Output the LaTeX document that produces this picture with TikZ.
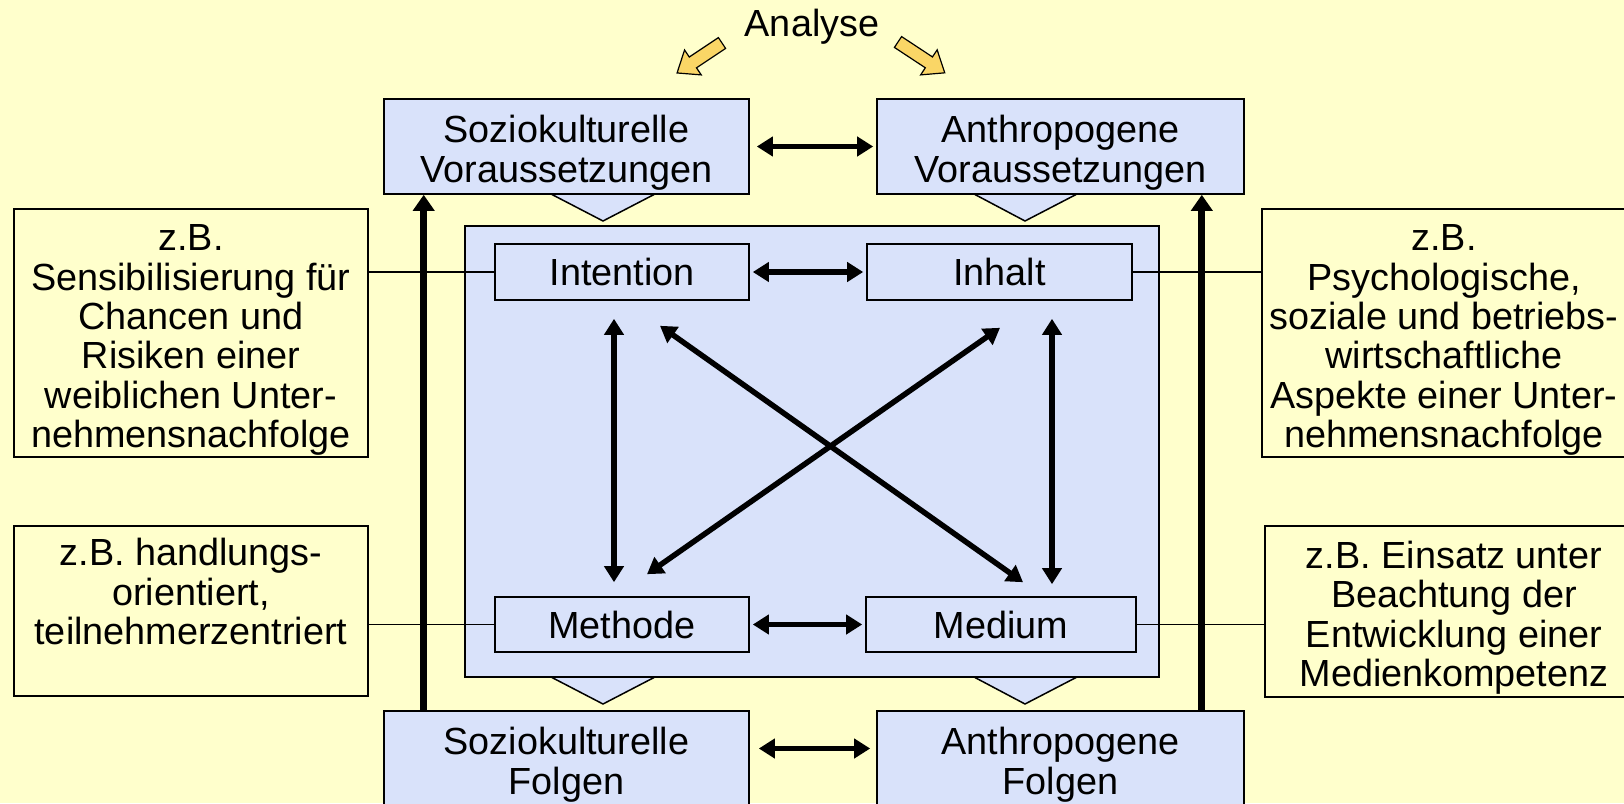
\documentclass[tikz,border=0pt]{standalone}
\usepackage{fontspec}
\setmainfont{Liberation Sans}
\usetikzlibrary{arrows.meta, calc}
\definecolor{bgyellow}{RGB}{255,255,204}
\definecolor{boxblue}{RGB}{217,226,250}
\definecolor{hintyellow}{RGB}{250,214,102}
\newcommand{\lift}{\rule{0pt}{40pt}}

\begin{document}
\begin{tikzpicture}[x=1pt, y=-1pt]

\tikzset{box/.style = {shape=rectangle, draw, fill=boxblue, line width=1.6pt, align=center, inner sep=2pt}}
\tikzset{note/.style = {shape=rectangle, draw, fill=bgyellow, line width=1.6pt, align=center, inner sep=2pt}}
\tikzset{edge/.style = {<->, >={Triangle[length=16pt,width=19pt]}, line width=5.5pt}}
\tikzset{bigedge/.style = {-{Triangle[length=16pt,width=21pt]}, line width=7pt}}
\tikzset{link/.style = {line width=1.6pt}}
\tikzset{hint/.style = {fill=hintyellow, draw, line width=1.2pt}}
\tikzset{every node/.style = {font=\fontsize{37.8}{39.3}\selectfont}}

\useasboundingbox (0,0) rectangle (1624,803);
\fill[bgyellow] (0,0) rectangle (1624,803);

%triangles
\filldraw[fill=boxblue, line width=1.5pt] (551,194) -- (603,221) -- (655,194);
\filldraw[fill=boxblue, line width=1.5pt] (974,194) -- (1025,221) -- (1077,194);
\filldraw[fill=boxblue, line width=1.5pt] (551,677) -- (603,704) -- (655,677);
\filldraw[fill=boxblue, line width=1.5pt] (974,677) -- (1025,704) -- (1077,677);

%boxes
\node (analyse) at (812,27) {Analyse};
\node[box, minimum width=365pt, minimum height=95pt] (sozV) at (566.5,146.5) {\lift Soziokulturelle\\Voraussetzungen};
\node[box, minimum width=367pt, minimum height=95pt] (anthV) at (1060.5,146.5) {\lift Anthropogene\\Voraussetzungen};
\node[box, minimum width=365pt, minimum height=95pt] (sozF) at (566.5,758.5) {\lift Soziokulturelle\\Folgen};
\node[box, minimum width=367pt, minimum height=95pt] (anthF) at (1060.5,758.5) {\lift Anthropogene\\Folgen};
\node[box, minimum width=694pt, minimum height=451pt] (frame) at (812,451.5) {};
\node[box, minimum width=254pt, minimum height=56pt] (intention) at (622,272) {Intention};
\node[box, minimum width=265pt, minimum height=56pt] (inhalt) at (999.5,272) {Inhalt};
\node[box, minimum width=254pt, minimum height=55pt] (methode) at (622,624.5) {Methode};
\node[box, minimum width=270pt, minimum height=55pt] (medium) at (1001,624.5) {Medium};

%examples
\node[note, minimum width=354pt, minimum height=248pt] (bsp1) at (191,333) {\lift z.B.\\Sensibilisierung für\\Chancen und\\Risiken einer\\weiblichen Unter-\\nehmensnachfolge};
\node[note, minimum width=354pt, minimum height=170pt] (bsp2) at (191,611) {z.B. handlungs-\\orientiert,\\teilnehmerzentriert\\\mbox{}};
\node[note, minimum width=364pt, minimum height=248pt] (bsp3) at (1444,333) {\lift z.B.\\Psychologische,\\soziale und betriebs-\\wirtschaftliche\\Aspekte einer Unter-\\nehmensnachfolge};
\node[note, minimum width=378pt, minimum height=171pt] (bsp4) at (1454,611.5) {\lift z.B. Einsatz unter\\Beachtung der\\Entwicklung einer\\Medienkompetenz};

\draw [link] (intention.west) -- (intention.west -| bsp1.east);
\draw [link] (methode.west) -- (methode.west -| bsp2.east);
\draw [link] (inhalt.east) -- (inhalt.east -| bsp3.west);
\draw [link] (medium.east) -- (medium.east -| bsp4.west);

\draw [bigedge] ($(sozF.north west)+(40.5,0)$) -- ($(sozV.south west)+(40.5,0)$);
\draw [bigedge] ($(anthF.north east)+(-43,0)$) -- ($(anthV.south east)+(-43,0)$);

\draw [edge, shorten <=7pt, shorten >=3pt] (sozV) -- (anthV);
\draw [edge, shorten <=9pt, shorten >=6pt] ([yshift=10pt]sozF.east) -- ([yshift=10pt]anthF.west);
\draw [edge, shorten <=3pt, shorten >=3pt] (intention) -- (inhalt);
\draw [edge, shorten <=3pt, shorten >=3pt] (methode) -- (medium);
\draw [edge] ($(intention.south)+(-8,18)$) -- ($(methode.north)+(-8,-14)$);
\draw [edge] ($(inhalt.south)+(52.5,18)$) -- ($(medium.north)+(51,-12)$);
\draw [edge] ($(intention.south)+(38,25)$) -- ($(medium.north)+(22,-14)$);
\draw [edge] ($(inhalt.south)+(0.5,27)$) -- ($(methode.north)+(25,-22)$);

%analyse arrows
\begin{scope}[shift={(722,43)}, rotate=213.7]
\filldraw[hint] (0,-6.5) -- (35,-6.5) -- (35,-15) -- (54,0) -- (35,15) -- (35,6.5) -- (0,6.5) -- cycle;
\end{scope}
\begin{scope}[shift={(898,42)}, rotate=-33.4]
\filldraw[hint] (0,-6.5) -- (37,-6.5) -- (37,-15) -- (56,0) -- (37,15) -- (37,6.5) -- (0,6.5) -- cycle;
\end{scope}

\end{tikzpicture}
\end{document}
